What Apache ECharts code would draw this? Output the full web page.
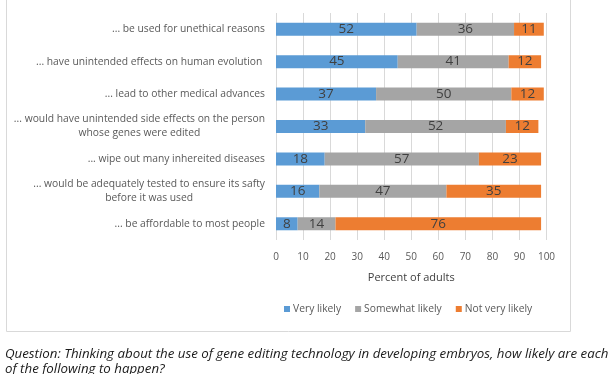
<!DOCTYPE html>
<html><head><meta charset="utf-8">
<script src="https://cdn.jsdelivr.net/npm/echarts@6/dist/echarts.min.js"></script>
<style>html,body{margin:0;padding:0;background:#fff}#c{width:612px;height:374px}</style>
</head><body><div id="c"></div>
<script>
const categories = [
  "... be used for unethical reasons",
  "... have unintended effects on human evolution ",
  "... lead to other medical advances",
  "... would have unintended side effects on the person\nwhose genes were edited",
  "... wipe out many inhereited diseases",
  "... would be adequately tested to ensure its safty\nbefore it was used",
  "... be affordable to most people"
];
const veryLikely = [52, 45, 37, 33, 18, 16, 8];
const somewhatLikely = [36, 41, 50, 52, 57, 47, 14];
const notVeryLikely = [11, 12, 12, 12, 23, 35, 76];
const xTicks = [0, 10, 20, 30, 40, 50, 60, 70, 80, 90, 100];
const seriesNames = ["Very likely", "Somewhat likely", "Not very likely"];
const caption = "Question: Thinking about the use of gene editing technology in developing embryos, how likely are each\nof the following to happen?";

const colors = ["#5B9BD5", "#A5A5A5", "#ED7D31"];
const chart = echarts.init(document.getElementById('c'), null, {renderer: 'canvas'});
const mk = (name, data, i) => ({
  name, type: 'bar', stack: 'all', data, barWidth: 13,
  itemStyle: {color: colors[i]},
  label: {show: true, position: 'inside', color: '#404040', fontSize: 13.5, fontFamily: 'Open Sans'}
});
chart.setOption({
  animation: false,
  color: colors,
  title: {text: caption, left: 0, top: 341, textStyle: {fontFamily: 'Open Sans', fontStyle: 'italic', fontWeight: 'normal', fontSize: 13.3, color: '#1a1a1a', lineHeight: 15.5}},
  graphic: [{type: 'polyline', shape: {points: [[6.5, -2], [6.5, 331.5], [570.5, 331.5], [570.5, -2]]}, style: {stroke: '#d9d9d9', fill: null, lineWidth: 1}, silent: true}],
  legend: {data: seriesNames, top: 299, left: 279, itemWidth: 6, itemHeight: 6, itemGap: 14, icon: 'rect',
    textStyle: {fontFamily: 'Open Sans', fontSize: 10.3, color: '#595959', padding: [0,0,0,-2]}},
  grid: {left: 276, right: 65.5, top: 13, bottom: 134},
  xAxis: {type: 'value', min: 0, max: 100, interval: 10,
    name: 'Percent of adults', nameLocation: 'middle', nameGap: 32,
    nameTextStyle: {fontFamily: 'Open Sans', fontSize: 11, color: '#404040'},
    axisLine: {show: false}, axisTick: {show: false},
    axisLabel: {fontFamily: 'Open Sans', fontSize: 10, color: '#595959', margin: 12,
      formatter: v => xTicks.includes(v) ? String(v) : ''},
    splitLine: {lineStyle: {color: '#d9d9d9'}}},
  yAxis: {type: 'category', data: categories, inverse: true,
    axisLine: {show: false}, axisTick: {show: false},
    axisLabel: {margin: 11, formatter: v => v.split('\n').map(s => '{a|' + s + '}').join('\n'),
      rich: {a: {fontFamily: 'Open Sans', fontSize: 10.3, color: '#595959', align: 'center', lineHeight: 14}}}},
  series: [mk(seriesNames[0], veryLikely, 0), mk(seriesNames[1], somewhatLikely, 1), mk(seriesNames[2], notVeryLikely, 2)]
});
</script></body></html>
